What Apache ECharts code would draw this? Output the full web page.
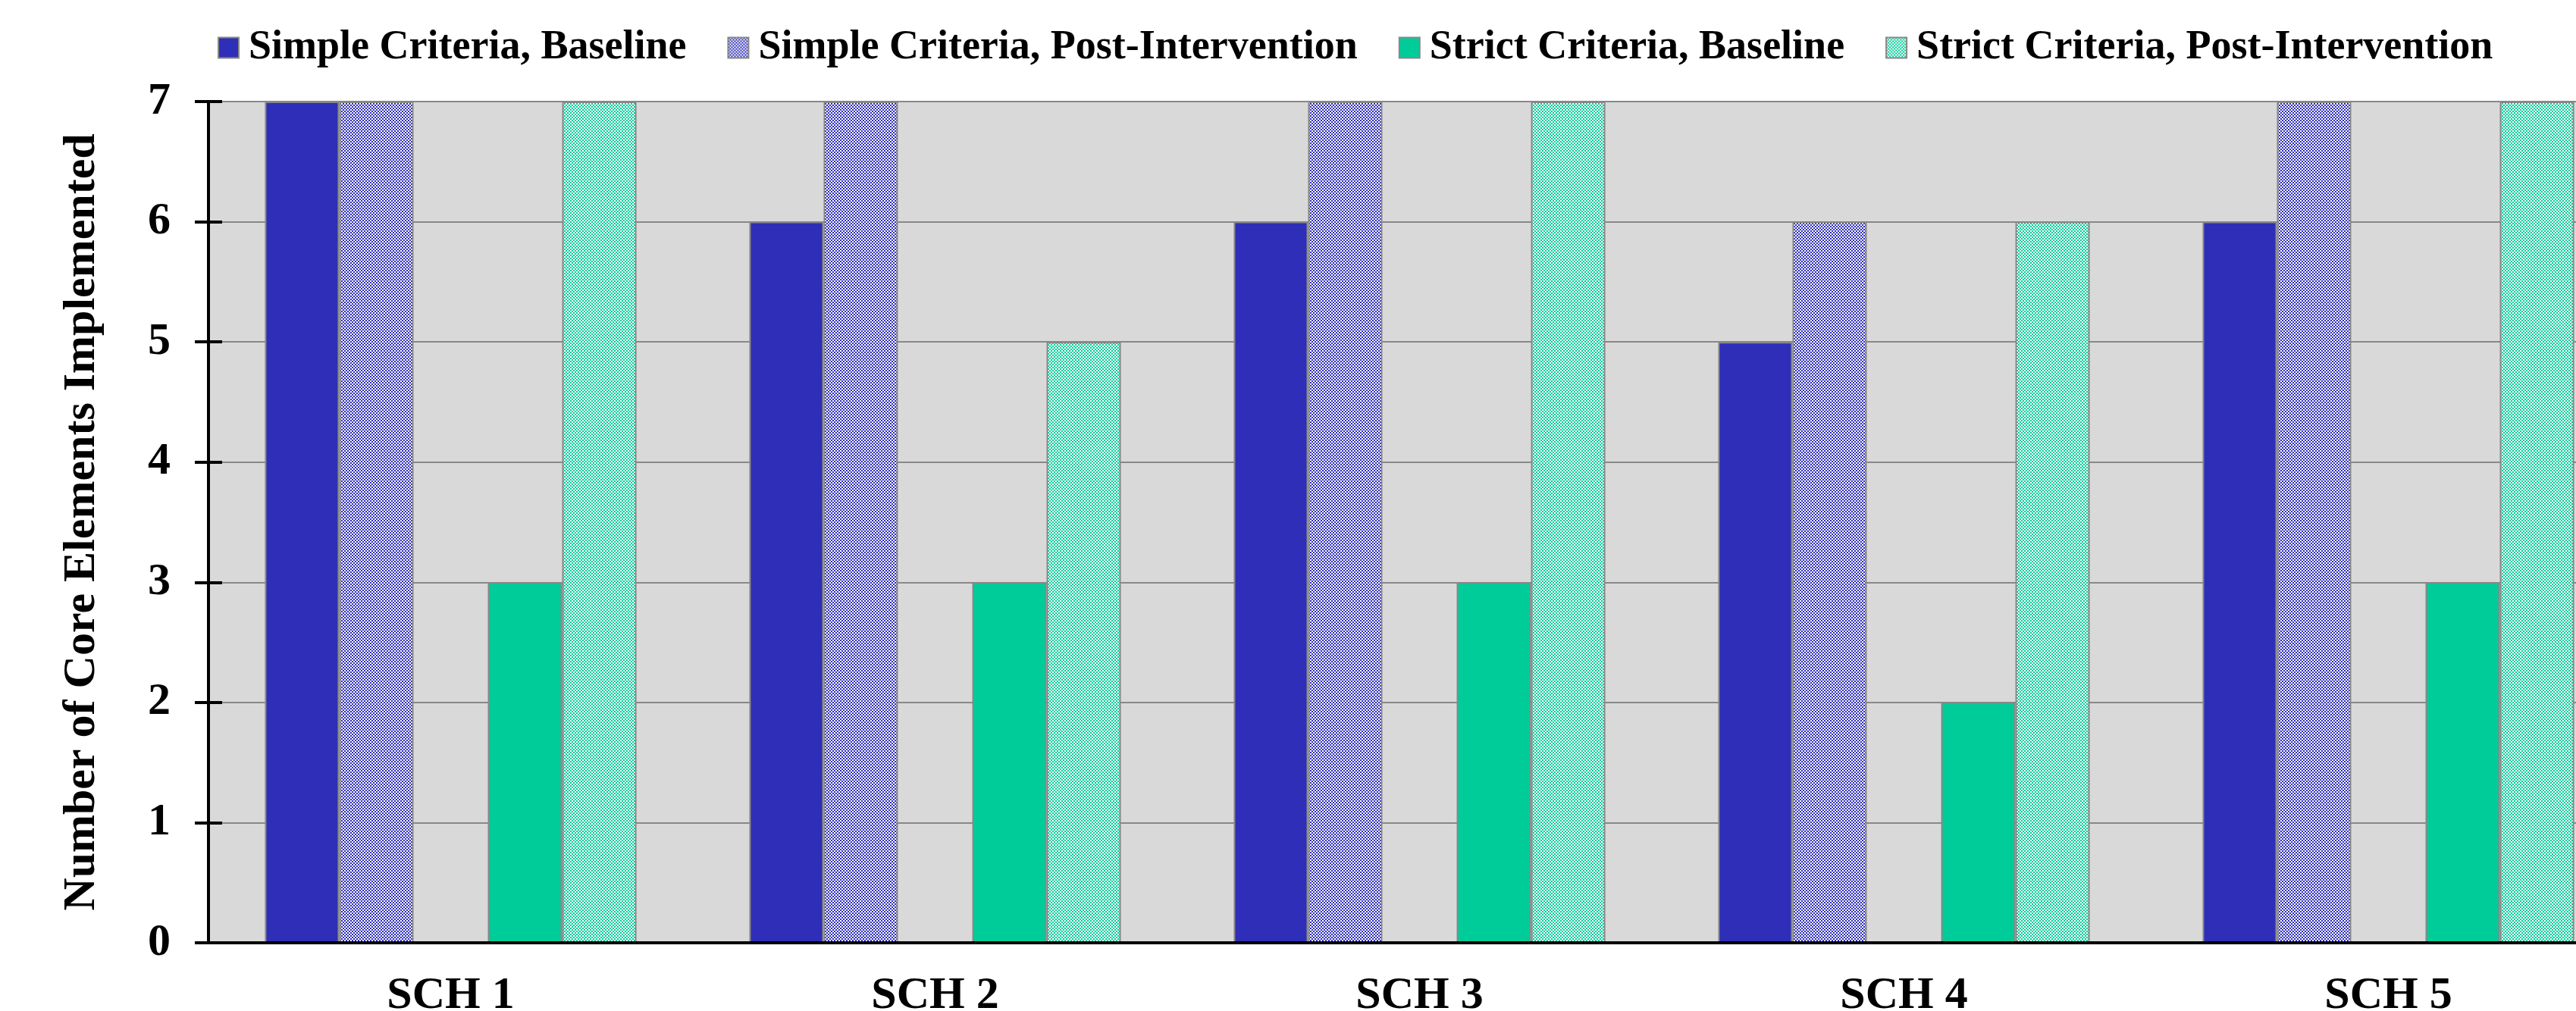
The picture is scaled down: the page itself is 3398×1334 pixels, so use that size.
<!DOCTYPE html>
<html>
<head>
<meta charset="utf-8">
<script src="https://cdn.jsdelivr.net/npm/echarts@6/dist/echarts.min.js"></script>
<style>
html, body { margin: 0; padding: 0; overflow: hidden; background: #ffffff; width: 3398px; height: 1334px; }
#main { width: 3470px; height: 1334px; }
</style>
</head>
<body>
<div id="main"></div>
<script>
// ---- Data ----
const categories = ['SCH 1', 'SCH 2', 'SCH 3', 'SCH 4', 'SCH 5'];
const seriesNames = [
  'Simple Criteria, Baseline',
  'Simple Criteria, Post-Intervention',
  'Strict Criteria, Baseline',
  'Strict Criteria, Post-Intervention'
];
const simpleBaseline = [7, 6, 6, 5, 6];
const simplePost = [7, 7, 7, 6, 7];
const strictBaseline = [3, 3, 3, 2, 3];
const strictPost = [7, 5, 7, 6, 7];
const gapSlot = [0, 0, 0, 0, 0];
const yTicks = [0, 1, 2, 3, 4, 5, 6, 7];

// ---- Styles ----
const BLUE = '#2E2EB8';
const GREEN = '#00CC99';
const FONT = 'Liberation Serif';

function checker(color) {
  const c = document.createElement('canvas');
  c.width = 4; c.height = 4;
  const ctx = c.getContext('2d');
  ctx.fillStyle = '#ffffff';
  ctx.fillRect(0, 0, 4, 4);
  ctx.fillStyle = color;
  ctx.fillRect(0, 0, 2, 2);
  ctx.fillRect(2, 2, 2, 2);
  return { image: c, repeat: 'repeat' };
}

const border = { borderColor: '#888888', borderWidth: 2 };

function barSeries(name, data, color) {
  return {
    name: name,
    type: 'bar',
    data: data,
    barGap: '0%',
    barCategoryGap: '23.3%',
    itemStyle: Object.assign({ color: color }, border),
    emphasis: { disabled: true },
    animation: false
  };
}

const chart = echarts.init(document.getElementById('main'), null, { renderer: 'canvas' });

const gridRect = { left: 275, right: 0, top: 134, bottom: 90, containLabel: false, outerBoundsMode: 'none' };

chart.setOption({
  animation: false,
  backgroundColor: '#ffffff',
  textStyle: { fontFamily: FONT },
  legend: {
    data: seriesNames,
    left: 282,
    top: 31,
    icon: 'rect',
    itemWidth: 27,
    itemHeight: 27,
    itemGap: 54,
    selectedMode: false,
    textStyle: {
      fontFamily: FONT,
      fontWeight: 'bold',
      fontSize: 54,
      color: '#000000',
      padding: [0, 0, 0, 8]
    }
  },
  grid: [
    Object.assign({ show: true, backgroundColor: '#D9D9D9', borderWidth: 0 }, gridRect),
    Object.assign({ show: false }, gridRect)
  ],
  xAxis: [
    {
      type: 'category',
      gridIndex: 0,
      data: categories,
      z: 10,
      axisLine: { show: true, lineStyle: { color: '#000000', width: 4 } },
      axisTick: { show: false },
      axisLabel: {
        fontFamily: FONT,
        fontWeight: 'bold',
        fontSize: 60,
        color: '#000000',
        margin: 40
      },
      splitLine: { show: false }
    },
    { type: 'category', gridIndex: 1, data: categories, show: false }
  ],
  yAxis: [
    {
      type: 'value',
      gridIndex: 0,
      min: 0,
      max: 7,
      interval: 1,
      name: 'Number of Core Elements Implemented',
      nameLocation: 'middle',
      nameRotate: 90,
      nameGap: 137,
      nameTextStyle: { fontFamily: FONT, fontWeight: 'bold', fontSize: 60, color: '#000000' },
      axisLine: { show: true, lineStyle: { color: '#000000', width: 4 } },
      axisTick: { show: true, length: 18, lineStyle: { color: '#000000', width: 4 } },
      axisLabel: {
        fontFamily: FONT,
        fontWeight: 'bold',
        fontSize: 60,
        color: '#000000',
        margin: 50,
        formatter: function (v) { return yTicks.indexOf(v) >= 0 ? String(v) : ''; }
      },
      splitLine: { show: true, lineStyle: { color: '#888888', width: 2 } }
    },
    {
      type: 'value',
      gridIndex: 1,
      min: 0,
      max: 7,
      interval: 1,
      z: 10,
      axisLine: { show: false },
      axisTick: { show: true, inside: true, length: 18, lineStyle: { color: '#000000', width: 4 } },
      axisLabel: { show: false },
      splitLine: { show: false }
    }
  ],
  series: [
    barSeries(seriesNames[0], simpleBaseline, BLUE),
    barSeries(seriesNames[1], simplePost, checker(BLUE)),
    {
      name: 'gap',
      type: 'bar',
      data: gapSlot,
      barGap: '0%',
      barCategoryGap: '23.3%',
      silent: true,
      itemStyle: { color: 'rgba(0,0,0,0)', borderWidth: 0 },
      emphasis: { disabled: true }
    },
    barSeries(seriesNames[2], strictBaseline, GREEN),
    barSeries(seriesNames[3], strictPost, checker(GREEN))
  ]
});
</script>
</body>
</html>
